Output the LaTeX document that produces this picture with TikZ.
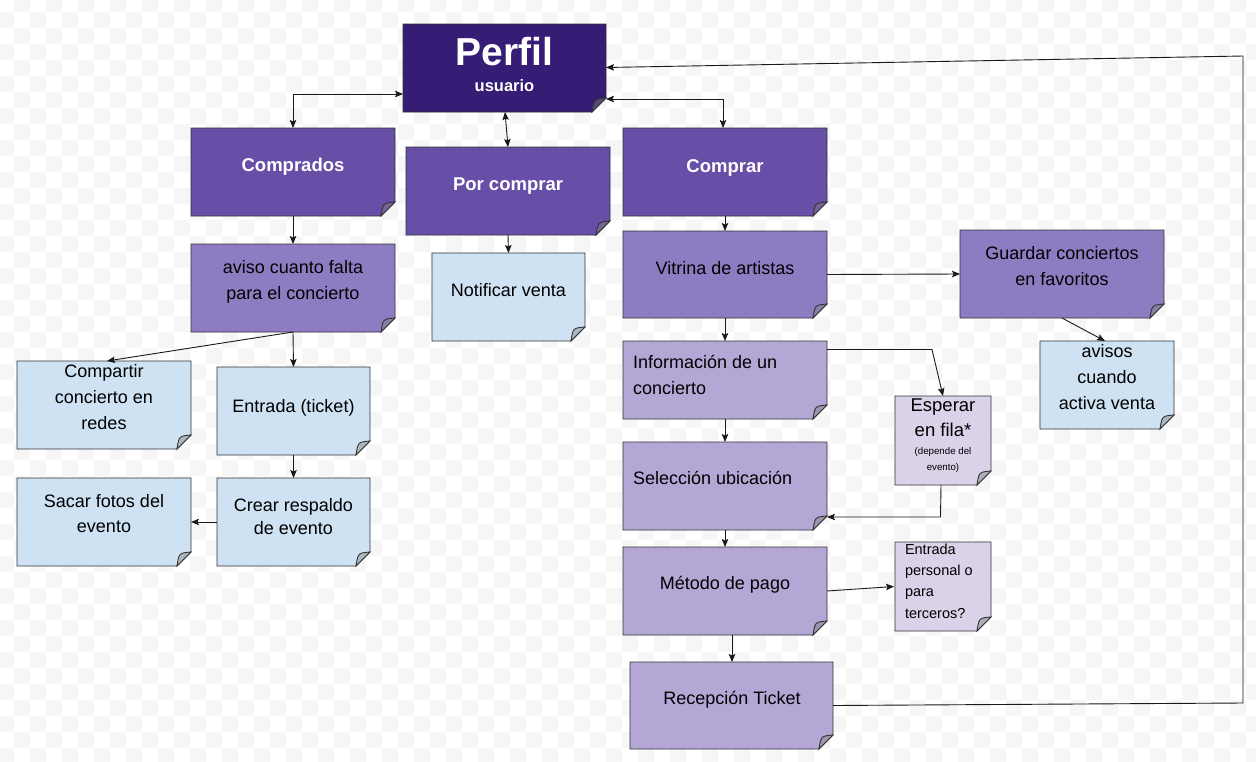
\documentclass[tikz,border=0pt]{standalone}
\usepackage{fontspec}
\setmainfont{Liberation Sans}
\usetikzlibrary{arrows.meta}
\definecolor{bgsq}{HTML}{F6F6F6}
\definecolor{pdark}{HTML}{351C75}
\definecolor{pmid}{HTML}{674EA7}
\definecolor{plight}{HTML}{8E7CC3}
\definecolor{plighter}{HTML}{B4A7D6}
\definecolor{plightest}{HTML}{D9D2E9}
\definecolor{lblue}{HTML}{CFE2F3}
\definecolor{edge}{HTML}{333333}
\newcommand\notebox[6]{%
  \node[inner sep=0pt, outer sep=0pt, minimum width=#4pt, minimum height=#5pt] (#1) at (#2,#3) {};
  \filldraw[boxline, fill=#6] (#1.north west) -- (#1.north east) -- ([yshift=14pt]#1.south east) -- ([xshift=-14pt]#1.south east) -- (#1.south west) -- cycle;
  \filldraw[boxline, fill=#6!55!gray] ([yshift=14pt]#1.south east) .. controls ([xshift=-12pt,yshift=13pt]#1.south east) .. ([xshift=-14pt]#1.south east) -- cycle;
}
\begin{document}
\begin{tikzpicture}[x=1pt,y=-1pt,
  boxline/.style={draw=edge, line width=0.9pt, line join=miter},
  conn/.style={draw=black!90, line width=0.9pt, -{Stealth[length=8pt,width=6.5pt,inset=1.5pt]}},
  conn2/.style={conn, {Stealth[length=8pt,width=6.5pt,inset=1.5pt]}-{Stealth[length=8pt,width=6.5pt,inset=1.5pt]}},
  txt/.style={inner sep=0pt, outer sep=0pt, align=center, font=\fontsize{18}{26}\selectfont, execute at begin node=\strut, execute at end node=\strut},
  ttl/.style={txt, text=white, font=\bfseries\fontsize{18.5}{25}\selectfont}
]
\useasboundingbox (0,0) rectangle (1256,761);
\begin{scope}
\clip (0,0) rectangle (1256,761);
\fill[white] (0,0) rectangle (1256,761);
\fill[bgsq] \foreach \j in {0,...,24} { \foreach \i in {0,...,40} { ({-18+32*\i},{-4+32*\j}) rectangle ++(16,16) ({-2+32*\i},{12+32*\j}) rectangle ++(16,16) } };
\end{scope}

% boxes
\notebox{perfil}{504.5}{68}{203}{88}{pdark}
\notebox{comprados}{293}{172}{204}{88}{pmid}
\notebox{porcomprar}{508}{191}{204}{88}{pmid}
\notebox{comprar}{725}{172}{204}{88}{pmid}
\notebox{aviso}{293}{288}{204}{88}{plight}
\notebox{notificar}{508.5}{297}{153}{88}{lblue}
\notebox{vitrina}{725}{274.5}{204}{87}{plight}
\notebox{guardar}{1062}{274}{204}{88}{plight}
\notebox{informacion}{725}{380}{204}{78}{plighter}
\notebox{seleccion}{725}{486}{204}{88}{plighter}
\notebox{metodo}{725}{591}{204}{88}{plighter}
\notebox{recepcion}{731.5}{705.5}{203}{87}{plighter}
\notebox{esperar}{943}{440.5}{96}{89}{plightest}
\notebox{entradap}{943}{586.5}{96}{89}{plightest}
\notebox{avisos}{1107}{385}{134}{88}{lblue}
\notebox{compartir}{104}{405}{174}{88}{lblue}
\notebox{entrada}{293.5}{411}{153}{88}{lblue}
\notebox{sacar}{104}{522}{174}{88}{lblue}
\notebox{crear}{293.5}{522}{153}{88}{lblue}

% texts
\node[ttl, font=\bfseries\fontsize{39}{46}\selectfont] (perfilT) at (504.5,55.8) {Perfil};
\node[ttl, font=\bfseries\fontsize{16.5}{20}\selectfont] (perfilS) at (504.5,87) {usuario};
\node[ttl] (compradosT) at (293,166.5) {Comprados};
\node[ttl] (porcomprarT) at (508,185) {Por comprar};
\node[ttl] (comprarT) at (725,167) {Comprar};
\node[txt] (avisoT) at (293,283.8) {aviso cuanto falta\\para el concierto};
\node[txt] (notificarT) at (508.5,291.5) {Notificar venta};
\node[txt] (vitrinaT) at (725,269.1) {Vitrina de artistas};
\node[txt] (guardarT) at (1062,270) {Guardar conciertos\\en favoritos};
\node[txt] (avisosT) at (1107,380.8) {avisos\\cuando\\activa venta};
\node[txt, anchor=west, align=left] (informacionT) at (633,378.5) {Información de un\\concierto};
\node[txt, anchor=west, align=left] (seleccionT) at (633,478.8) {Selección ubicación};
\node[txt] (metodoT) at (725,584.1) {Método de pago};
\node[txt] (recepcionT) at (732,699.1) {Recepción Ticket};
\node[txt, font=\fontsize{18.5}{25}\selectfont] (esperarT) at (943,421.2) {Esperar\\en fila*};
\node[txt, font=\fontsize{9.7}{16}\selectfont] (esperarS) at (943,461.8) {(depende del\\evento)};
\node[txt, anchor=west, align=left, font=\fontsize{14.5}{21.2}\selectfont] (entradapT) at (905,584.3) {Entrada\\personal o\\para\\terceros?};
\node[txt] (compartirT) at (104,400.8) {Compartir\\concierto en\\redes};
\node[txt] (entradaT) at (293.5,407) {Entrada (ticket)};
\node[txt, font=\fontsize{18}{25}\selectfont] (sacarT) at (104,517.2) {Sacar fotos del\\evento};
\node[txt, font=\fontsize{18}{23}\selectfont] (crearT) at (293.5,519.7) {Crear respaldo\\de evento};

% connectors
\draw[conn2] ([yshift=-26pt]perfil.west) -| (comprados.north);
\draw[conn2] ([xshift=0.5pt]perfil.south) -- (porcomprar.north);
\draw[conn2] ([yshift=-31pt]perfil.east) -| ([xshift=-2pt]comprar.north);
\coordinate (r1) at (1243,703);
\coordinate (r2) at (1243,56);
\draw[conn] (recepcion.east) -- (r1) -- (r2) -- ([yshift=0.5pt]perfil.east);
\draw[conn] (comprados.south) -- (aviso.north);
\draw[conn] (porcomprar.south) -- (notificar.north);
\draw[conn] (comprar.south) -- (vitrina.north);
\draw[conn] (vitrina.east) -- (guardar.west);
\draw[conn] (vitrina.south) -- (informacion.north);
\draw[conn] (guardar.south) -- ([xshift=-2pt]avisos.north);
\coordinate (e1) at (932,349.5);
\draw[conn] ([yshift=30.5pt]informacion.east) -- (e1) -- (esperar.north);
\draw[conn] (informacion.south) -- (seleccion.north);
\coordinate (e2) at (940.5,517);
\draw[conn] ([xshift=-2pt]esperar.south) -- (e2) -- ([yshift=-31pt]seleccion.east);
\draw[conn] (seleccion.south) -- (metodo.north);
\draw[conn] (metodo.east) -- ([xshift=-1pt]entradap.west);
\draw[conn] ([xshift=7pt]metodo.south) -- ([xshift=0.5pt]recepcion.north);
\draw[conn] (aviso.south) -- ([xshift=3pt]compartir.north);
\draw[conn] (aviso.south) -- (entrada.north);
\draw[conn] (entrada.south) -- (crear.north);
\draw[conn] (crear.west) -- (sacar.east);
\end{tikzpicture}
\end{document}
